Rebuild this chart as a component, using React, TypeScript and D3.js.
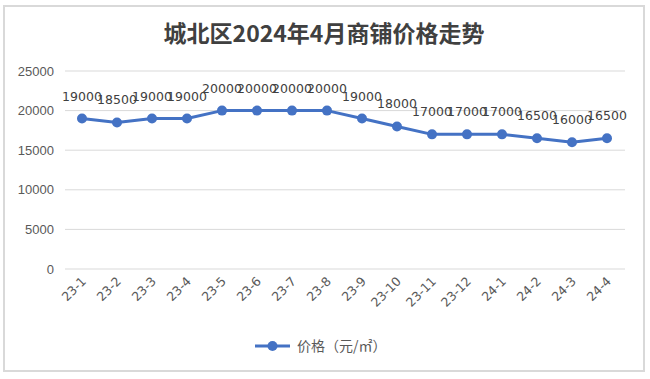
import React from "react";
import * as d3 from "d3";

const categories = ["23-1","23-2","23-3","23-4","23-5","23-6","23-7","23-8","23-9","23-10","23-11","23-12","24-1","24-2","24-3","24-4"];
const prices = [19000,18500,19000,19000,20000,20000,20000,20000,19000,18000,17000,17000,17000,16500,16000,16500];
const yTicks = [0,5000,10000,15000,20000,25000];
const title = "城北区2024年4月商铺价格走势";
const seriesName = "价格（元/㎡）";

export default function App() {
  const W = 650, H = 379;
  const x = d3.scalePoint<string>().domain(categories).range([82, 607]);
  const y = d3.scaleLinear().domain([0, 25000]).range([269, 71]);
  const line = d3.line<number>().x((_, i) => x(categories[i])!).y(d => y(d));
  const blue = "#4472C4";
  return (
    <svg width={W} height={H} style={{ position: "absolute", left: 0, top: 0, background: "#fff" }}>
      <rect x={4} y={6} width={640} height={365} fill="#fff" stroke="#d9d9d9" strokeWidth={2} />
      <text x={324} y={42} textAnchor="middle" fontFamily="'Noto Sans CJK SC', sans-serif" fontWeight="bold" fontSize={23} fill="#404040">{title}</text>
      {yTicks.map(t => (
        <g key={t}>
          <line x1={65} x2={625} y1={y(t)} y2={y(t)} stroke="#d9d9d9" strokeWidth={1} />
          <text x={54} y={y(t) + 4.5} textAnchor="end" fontFamily="'Liberation Sans', Arial, sans-serif" fontSize={13} fill="#595959">{t}</text>
        </g>
      ))}
      {categories.map(c => (
        <text key={c} transform={`translate(${x(c)! + 5},${282}) rotate(-45)`} textAnchor="end" fontFamily="'DejaVu Sans', sans-serif" fontSize={12.5} fill="#595959">{c}</text>
      ))}
      <path d={line(prices)!} fill="none" stroke={blue} strokeWidth={3} strokeLinejoin="round" />
      {prices.map((p, i) => (
        <circle key={i} cx={x(categories[i])!} cy={y(p)} r={5} fill={blue} />
      ))}
      {prices.map((p, i) => (
        <text key={"l" + i} x={x(categories[i])!} y={y(p) - 18} textAnchor="middle" fontFamily="'DejaVu Sans', sans-serif" fontSize={12.5} fill="#404040">{p}</text>
      ))}
      <line x1={255} x2={290} y1={346} y2={346} stroke={blue} strokeWidth={3} />
      <circle cx={272.5} cy={346} r={5} fill={blue} />
      <text x={297} y={351} fontFamily="'Noto Sans CJK SC', sans-serif" fontSize={14} fill="#595959">{seriesName}</text>
    </svg>
  );
}
